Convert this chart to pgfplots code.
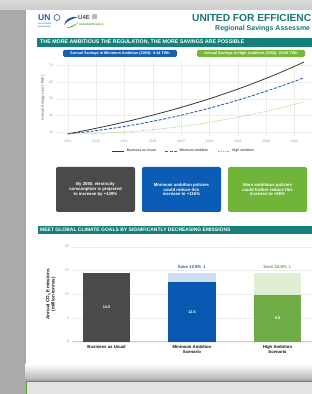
\documentclass[border=0pt]{standalone}
\usepackage{pgfplots}
\usepackage{pgfplotstable}
\pgfplotsset{compat=1.18}
\usepackage{fontspec}
\setmainfont{Liberation Sans}
\newfontfamily\dejavu{DejaVu Sans}
\newcommand\fs[2]{\fontsize{#1}{#2}\selectfont}
\definecolor{cbg}{RGB}{170,170,170}
\definecolor{ctitle}{RGB}{28,118,115}
\definecolor{cteal}{RGB}{22,128,122}
\definecolor{cunblue}{RGB}{30,90,170}
\definecolor{cpillblue}{RGB}{25,95,180}
\definecolor{cpillgreen}{RGB}{118,184,58}
\definecolor{cboxgray}{RGB}{74,74,74}
\definecolor{cboxblue}{RGB}{10,92,180}
\definecolor{cboxgreen}{RGB}{112,180,58}
\definecolor{cbarblue}{RGB}{8,88,178}
\definecolor{clightblue}{RGB}{205,220,242}
\definecolor{cbargreen}{RGB}{112,172,70}
\definecolor{clightgreen}{RGB}{224,238,212}
\definecolor{cbau}{RGB}{55,55,55}
\definecolor{cmin}{RGB}{40,100,172}
\definecolor{chigh}{RGB}{140,200,80}
\definecolor{cborder}{RGB}{90,160,45}
\definecolor{csaveblue}{RGB}{40,90,165}
\definecolor{csavegreen}{RGB}{100,165,70}

\pgfplotstableread{
year bau min high
2025 28.90 28.90 28.90
2026 29.97 29.48 28.93
2027 31.09 30.13 29.02
2028 32.25 30.84 29.18
2029 33.44 31.61 29.39
2030 34.69 32.45 29.67
2031 35.98 33.35 30.01
2032 37.31 34.31 30.41
2033 38.70 35.34 30.87
2034 40.14 36.43 31.39
2035 41.63 37.58 31.97
2036 43.18 38.80 32.62
2037 44.78 40.08 33.32
2038 46.45 41.42 34.09
2039 48.17 42.83 34.92
2040 49.96 44.30 35.81
2041 51.82 45.84 36.76
2042 53.75 47.44 37.78
2043 55.75 49.10 38.85
2044 57.82 50.83 39.99
2045 59.97 52.62 41.19
2046 62.20 54.47 42.45
2047 64.51 56.39 43.77
2048 66.91 58.37 45.15
2049 69.40 60.42 46.59
2050 71.98 62.53 48.10
}\energy

\begin{document}
\begin{tikzpicture}
\useasboundingbox (0pt,0pt) rectangle (312pt,394pt);
\clip (0pt,0pt) rectangle (312pt,394pt);
% background and page
\fill[cbg] (0pt,0pt) rectangle (312pt,394pt);
\shade[top color=gray!28, bottom color=gray!40] (0pt,384pt) rectangle (312pt,394pt);
\fill[gray!68] (22.5pt,20pt) rectangle (26pt,384pt);
\fill[white] (25.5pt,26pt) rectangle (312pt,384pt);
\shade[top color=white, bottom color=gray!55] (25.5pt,15pt) rectangle (312pt,30pt);
\filldraw[fill=gray!22, draw=cborder, line width=1.4pt] (26.5pt,-5pt) rectangle (320pt,12.5pt);

% logos
\node[anchor=base west, inner sep=0, font=\bfseries\fs{8.5}{8.5}, text=cunblue] at (38pt,373pt) {UN};
\draw[cunblue, line width=0.6pt] (57pt,376.5pt) circle (3pt);
\node[anchor=north west, inner sep=0, align=left, font=\fs{2.4}{2.7}, text=cunblue] at (38pt,371pt) {environment\\programme};
\fill[cunblue] (64pt,369pt) .. controls (65pt,375pt) and (71pt,378pt) .. (78pt,377pt) .. controls (72pt,375pt) and (67pt,373pt) .. cycle;
\fill[cborder] (66pt,366pt) .. controls (70pt,367pt) and (75pt,369pt) .. (79pt,372pt) .. controls (75pt,368pt) and (70pt,365.5pt) .. cycle;
\node[anchor=base west, inner sep=0, font=\bfseries\fs{6}{6}, text=gray!65!black] at (78pt,374.5pt) {U4E};
\fill[gray!55] (92pt,374.5pt) rectangle (97pt,380pt);
\node[anchor=base west, inner sep=0, font=\bfseries\fs{3}{3}, text=cborder] at (79pt,368.5pt) {united4efficiency};

% title (shown cut at the right edge in the reference)
\node[anchor=base west, inner sep=0, font=\bfseries\fs{10.2}{10.2}, text=ctitle] at (192pt,372.5pt) {UNITED FOR EFFICIENC};
\node[anchor=base west, inner sep=0, font=\bfseries\fs{7}{7}, text=ctitle] at (215pt,363.5pt) {Regional Savings Assessme};

% banner 1
\fill[cteal] (37pt,347pt) rectangle (312pt,356pt);
\node[anchor=west, inner sep=0, font=\bfseries\fs{5.3}{5.3}, text=white] at (40pt,351.5pt) {THE MORE AMBITIOUS THE REGULATION, THE MORE SAVINGS ARE POSSIBLE};

% pills
\fill[cpillblue, rounded corners=1.5pt] (63pt,337pt) rectangle (177pt,344pt);
\node[inner sep=0, font=\bfseries\fs{3.8}{3.8}, text=white] at (120pt,340.5pt) {Annual Savings in Minimum Ambition (2050): 9.44 TWh};
\fill[cpillgreen, rounded corners=1.5pt] (197pt,337pt) rectangle (305pt,344pt);
\node[inner sep=0, font=\bfseries\fs{3.8}{3.8}, text=white] at (251pt,340.5pt) {Annual Savings in High Ambition (2050): 23.86 TWh};

% line chart
\begin{axis}[at={(56.4pt,257.8pt)}, anchor=south west, scale only axis,
  width=255.1pt, height=76.7pt,
  xmin=2023.8, xmax=2050.8, ymin=27.5, ymax=73.5,
  xtick={2025,2028,...,2049}, ytick={30,40,...,70},
  grid=major, grid style={gray!14, line width=0.3pt},
  axis line style={draw=none}, major tick length=0pt,
  tick label style={font=\fs{3.4}{3.4}, text=gray!75},
  /pgf/number format/assume math mode=true, /pgf/number format/1000 sep={},
  ylabel={Annual Energy Use (TWh)},
  ylabel style={font=\fs{3.8}{3.8}, text=gray!70!black, at={(axis description cs:-0.053,0.5)}, anchor=center},
  legend style={at={(0.5,-0.193)}, anchor=center, draw=none, fill=none, font=\fs{3.5}{3.5}, text=gray!20!black, legend columns=3, /tikz/every even column/.append style={column sep=7pt}},
  legend image code/.code={\draw[#1] (0pt,0pt) -- (12pt,0pt);},
]
\addplot[cbau, line width=0.8pt] table[x=year, y=bau] {\energy};
\addlegendentry{Business as Usual}
\addplot[cmin, line width=0.9pt, dash pattern=on 3pt off 1.6pt] table[x=year, y=min] {\energy};
\addlegendentry{Minimum Ambition}
\addplot[chigh, line width=0.8pt, dash pattern=on 0.6pt off 1.2pt] table[x=year, y=high] {\energy};
\addlegendentry{High Ambition}
\end{axis}

% boxes
\node[fill=cboxgray, rounded corners=2pt, inner sep=0, minimum width=79pt, minimum height=45pt, text=white, align=center, font=\bfseries\fs{4.3}{4.9}] at (95.5pt,204.5pt) {By 2050, electricity\\consumption is projected\\to increase by +149\%};
\node[fill=cboxblue, rounded corners=2pt, inner sep=0, minimum width=79pt, minimum height=45pt, text=white, align=center, font=\bfseries\fs{4.3}{4.9}] at (181.5pt,204.5pt) {Minimum ambition policies\\could reduce this\\increase to +116\%};
\node[fill=cboxgreen, rounded corners=2pt, inner sep=0, minimum width=79pt, minimum height=45pt, text=white, align=center, font=\bfseries\fs{4.3}{4.9}] at (267.5pt,204.5pt) {More ambitious policies\\could further reduce this\\increase to +66\%};

% banner 2
\fill[cteal] (38pt,160pt) rectangle (312pt,168pt);
\node[anchor=west, inner sep=0, font=\bfseries\fs{5}{5}, text=white] at (40pt,164pt) {MEET GLOBAL CLIMATE GOALS BY SIGNIFICANTLY DECREASING EMISSIONS};

% bar chart
\begin{axis}[at={(72.3pt,52.3pt)}, anchor=south west, scale only axis,
  width=239.4pt, height=95pt,
  xmin=-0.4, xmax=2.4, ymin=0, ymax=20,
  xtick={0,1,2}, ytick={0,5,...,20},
  xticklabels={Business as Usual, {Minimum Ambition\\Scenario}, {High Ambition\\Scenario}},
  xticklabel style={font=\bfseries\fs{4.3}{4.8}, align=center, text=gray!15!black},
  yticklabel style={font=\fs{3.6}{3.6}, text=gray!75},
  /pgf/number format/assume math mode=true,
  ymajorgrids, grid style={gray!14, line width=0.3pt},
  axis x line*=bottom, axis y line*=left,
  x axis line style={draw=gray!35, line width=0.4pt},
  y axis line style={draw=none},
  major tick length=2pt, xtick style={draw=gray!50!black, line width=0.4pt}, ytick style={draw=none},
  ylabel={Annual CO\textsubscript{2} Emissions\\(million tonnes)},
  ylabel style={font=\bfseries\fs{4.6}{5.2}, align=center, text=gray!20!black, at={(axis description cs:-0.09,0.5)}, anchor=center},
]
\addplot[ybar, bar width=47pt, bar shift=0pt, fill=cboxgray, draw=none] coordinates {(0,14.5)};
\addplot[ybar, bar width=47pt, bar shift=0pt, fill=clightblue, draw=none] coordinates {(1,14.5)};
\addplot[ybar, bar width=47pt, bar shift=0pt, fill=cbarblue, draw=none] coordinates {(1,12.63)};
\addplot[ybar, bar width=47pt, bar shift=0pt, fill=clightgreen, draw=none] coordinates {(2,14.5)};
\addplot[ybar, bar width=47pt, bar shift=0pt, fill=cbargreen, draw=none] coordinates {(2,9.77)};
\addplot[draw=none, nodes near coords, point meta=explicit symbolic,
  every node near coord/.style={anchor=center, font=\bfseries\fs{3.8}{3.8}, text=white}]
  coordinates {(0,7.25)[14.5] (1,6.3)[12.6] (2,4.9)[9.8]};
\addplot[draw=none, nodes near coords, point meta=explicit symbolic,
  every node near coord/.style={anchor=center, font=\bfseries\fs{4.3}{4.3}, text=csaveblue}]
  coordinates {(1,15.8)[Save 12.9\% {\dejavu↓}]};
\addplot[draw=none, nodes near coords, point meta=explicit symbolic,
  every node near coord/.style={anchor=center, font=\bfseries\fs{4.3}{4.3}, text=csavegreen}]
  coordinates {(2,15.8)[Save 32.6\% {\dejavu↓}]};
\end{axis}
\end{tikzpicture}
\end{document}
